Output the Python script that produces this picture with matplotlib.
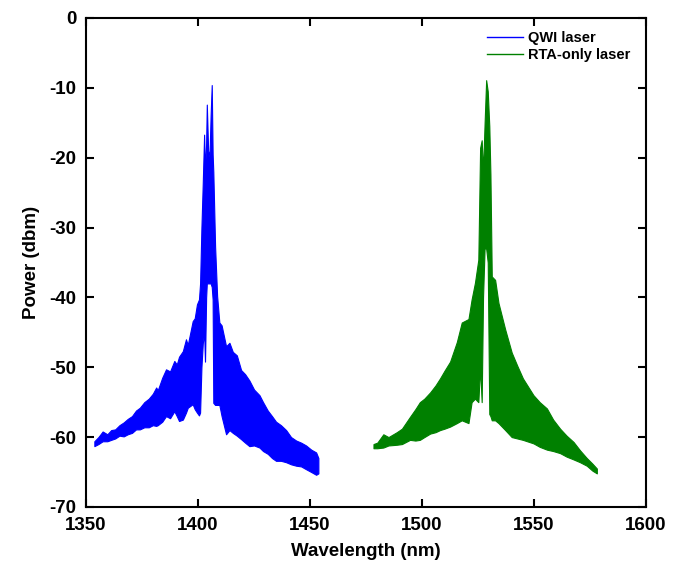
#!/usr/bin/env python3
"""Optical spectra of the QWI laser and the RTA-only laser (power vs wavelength)."""

import matplotlib
matplotlib.use("Agg")
import matplotlib.pyplot as plt
from matplotlib.lines import Line2D

# QWI laser: wavelength (nm) with upper / lower envelope of the spectrum (dBm)
QWI_WL = [
    1353.7, 1355.5, 1357.4, 1359.5, 1361.2, 1363.0, 1364.9, 1366.8, 1368.6, 1370.5,
    1372.3, 1374.0, 1376.0, 1378.0, 1379.8, 1381.3, 1382.0, 1384.0, 1385.7, 1387.5,
    1389.4, 1390.5, 1391.5, 1393.2, 1394.6, 1395.4, 1397.6, 1398.5, 1399.5, 1400.4,
    1400.9, 1401.5, 1402.1, 1402.7, 1403.1, 1403.6, 1403.9, 1404.5, 1405.1, 1405.6,
    1406.1, 1406.5, 1406.8, 1407.6, 1408.5, 1409.5, 1410.5, 1412.5, 1414.0, 1415.5,
    1417.3, 1419.2, 1421.0, 1422.9, 1425.0, 1427.4, 1429.0, 1431.1, 1433.0, 1434.8,
    1437.0, 1439.3, 1441.5, 1443.8, 1446.0, 1448.2, 1450.5, 1452.7, 1453.7,
]
QWI_UPPER = [
    -60.6, -60.0, -59.2, -59.6, -59.0, -58.9, -58.3, -57.9, -57.4, -57.0,
    -56.2, -55.8, -55.0, -54.5, -53.8, -52.9, -53.3, -51.5, -50.3, -50.6,
    -49.1, -49.6, -48.5, -47.7, -46.0, -46.8, -43.4, -43.0, -41.0, -40.3,
    -38.0, -30.0, -23.6, -16.7, -22.0, -18.0, -12.4, -19.0, -19.8, -14.0,
    -9.6, -19.5, -22.0, -32.7, -39.8, -43.6, -44.0, -47.0, -46.5, -47.8,
    -48.3, -50.4, -51.0, -51.9, -53.2, -54.0, -55.0, -56.2, -57.0, -57.8,
    -58.3, -59.0, -60.0, -60.5, -60.8, -61.2, -61.8, -62.2, -63.0,
]
QWI_LOWER = [
    -61.3, -61.0, -60.6, -60.6, -60.4, -60.2, -59.8, -59.9, -59.6, -59.4,
    -58.9, -58.9, -58.6, -58.6, -58.3, -58.4, -58.3, -57.8, -57.0, -57.3,
    -56.3, -57.0, -57.7, -57.5, -56.5, -55.8, -55.3, -56.0, -56.5, -56.9,
    -56.5, -50.0, -46.6, -45.0, -49.2, -40.0, -38.0, -38.0, -38.0, -38.0,
    -38.5, -40.3, -55.1, -55.4, -55.4, -55.4, -57.0, -59.6, -59.0, -59.4,
    -59.8, -60.3, -60.8, -61.3, -61.2, -61.5, -62.0, -62.4, -63.0, -63.4,
    -63.4, -63.6, -63.9, -64.1, -64.2, -64.6, -65.0, -65.4, -65.2,
]

# RTA-only laser
RTA_WL = [
    1478.3, 1480.0, 1482.7, 1485.0, 1488.7, 1491.0, 1494.6, 1497.0, 1499.0, 1501.0,
    1503.6, 1506.0, 1508.0, 1510.0, 1512.5, 1515.5, 1517.7, 1520.7, 1522.1, 1523.6,
    1525.1, 1525.9, 1526.6, 1527.2, 1527.9, 1528.6, 1529.3, 1530.0, 1530.5, 1531.1,
    1532.6, 1534.1, 1537.1, 1540.0, 1542.5, 1545.0, 1549.7, 1552.5, 1555.7, 1558.5,
    1561.6, 1564.5, 1567.6, 1570.5, 1573.5, 1576.0, 1578.0,
]
RTA_UPPER = [
    -61.0, -60.8, -59.6, -60.0, -59.3, -58.8, -57.1, -56.0, -55.0, -54.5,
    -53.6, -52.6, -51.6, -50.5, -49.2, -46.4, -43.6, -43.1, -40.3, -37.9,
    -34.6, -18.6, -17.5, -22.0, -15.1, -8.9, -10.5, -15.5, -22.4, -37.0,
    -37.5, -40.8, -44.6, -47.9, -49.8, -51.6, -54.0, -55.0, -55.9, -57.5,
    -58.8, -59.8, -60.7, -61.9, -63.0, -63.8, -64.5,
]
RTA_LOWER = [
    -61.6, -61.6, -61.5, -61.2, -61.1, -61.0, -60.4, -60.5, -60.4, -60.0,
    -59.5, -59.3, -59.0, -58.8, -58.5, -58.0, -57.6, -58.0, -55.0, -54.5,
    -55.0, -50.0, -55.0, -40.0, -33.0, -33.0, -35.0, -56.7, -57.0, -57.6,
    -57.6, -58.0, -59.0, -60.0, -60.2, -60.4, -60.9, -61.4, -61.8, -62.0,
    -62.3, -62.8, -63.2, -63.6, -64.1, -64.8, -65.2,
]

X_TICKS = [1350, 1400, 1450, 1500, 1550, 1600]
Y_TICKS = [0, -10, -20, -30, -40, -50, -60, -70]

BLUE = "#0000ff"
GREEN = "#008000"


def main() -> None:
    plt.rcParams["font.family"] = ["Liberation Sans", "DejaVu Sans"]
    plt.rcParams["font.weight"] = "bold"
    plt.rcParams["axes.unicode_minus"] = False

    fig = plt.figure(figsize=(6.83, 5.62), dpi=100)
    ax = fig.add_axes([0.126, 0.098, 0.820, 0.870])

    ax.fill_between(QWI_WL, QWI_LOWER, QWI_UPPER, color=BLUE,
                    edgecolor=BLUE, linewidth=0.8)
    ax.fill_between(RTA_WL, RTA_LOWER, RTA_UPPER, color=GREEN,
                    edgecolor=GREEN, linewidth=0.8)

    ax.set_xlim(1350, 1600)
    ax.set_ylim(-70, 0)
    ax.set_xticks(X_TICKS)
    ax.set_yticks(Y_TICKS)

    ax.tick_params(direction="in", top=True, right=True, length=5.5, width=1.5,
                   labelsize=13.5, pad=7)
    for tl in ax.get_xticklabels() + ax.get_yticklabels():
        tl.set_fontweight("bold")
    for sp in ax.spines.values():
        sp.set_linewidth(1.5)

    ax.set_xlabel("Wavelength (nm)", fontsize=13.5, fontweight="bold", labelpad=7)
    ax.set_ylabel("Power (dbm)", fontsize=13.5, fontweight="bold", labelpad=7)

    handles = [Line2D([], [], color=BLUE, linewidth=1.0),
               Line2D([], [], color=GREEN, linewidth=1.0)]
    fig.legend(handles, ["QWI laser", "RTA-only laser"],
               loc="upper left", bbox_to_anchor=(0.703, 0.957),
               frameon=False, borderpad=0,
               handlelength=2.45, handletextpad=0.35, labelspacing=0.15,
               prop={"weight": "bold", "size": 10.5})

    fig.savefig("out.png", dpi=100)
    plt.close(fig)


if __name__ == "__main__":
    main()
